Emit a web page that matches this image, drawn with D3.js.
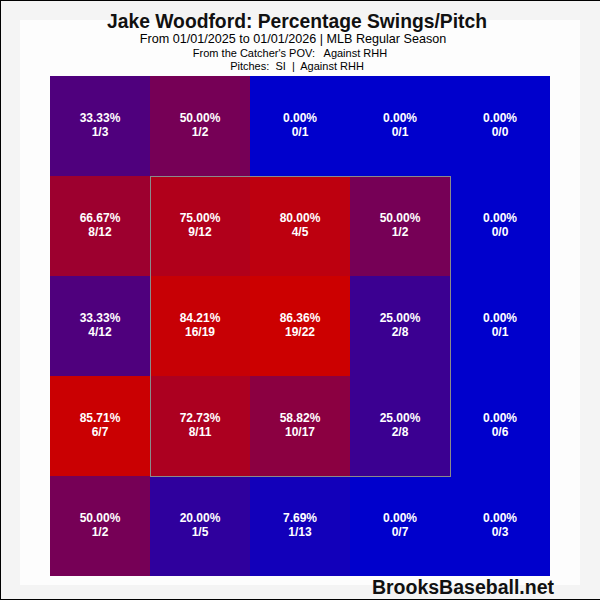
<!DOCTYPE html>
<html><head><meta charset="utf-8">
<script src="https://cdn.jsdelivr.net/npm/d3@7"></script>
<style>body{margin:0;background:#fff}svg{display:block}</style>
</head><body>
<script>
const titleText = "Jake Woodford: Percentage Swings/Pitch";
const subtitles = ["From 01/01/2025 to 01/01/2026 | MLB Regular Season", "From the Catcher's POV:   Against RHH", "Pitches:  SI  |  Against RHH"];
const rowIdx = [0,1,2,3,4];
const colIdx = [0,1,2,3,4];
const swings = [
  [1,1,0,0,0],
  [8,9,4,1,0],
  [4,16,19,2,0],
  [6,8,10,2,0],
  [1,1,1,0,0]
];
const pitches = [
  [3,2,1,1,0],
  [12,12,5,2,0],
  [12,19,22,8,1],
  [7,11,17,8,6],
  [2,5,13,7,3]
];
const zoneCols = [1,3];
const zoneRows = [1,3];

const W=600,H=600;
const svg=d3.select("body").append("svg").attr("width",W).attr("height",H);
svg.append("rect").attr("width",W).attr("height",H).attr("fill","#f4f4f4");
svg.append("rect").attr("x",20).attr("y",20).attr("width",560).attr("height",565).attr("fill","#fdfdfd");
svg.append("line").attr("x1",0.5).attr("x2",0.5).attr("y1",0).attr("y2",H).attr("stroke","#000");
svg.append("line").attr("x1",0).attr("x2",W).attr("y1",0.5).attr("y2",0.5).attr("stroke","#000");
svg.append("line").attr("x1",0).attr("x2",W).attr("y1",H-0.5).attr("y2",H-0.5).attr("stroke","#000");

const x=d3.scaleBand().domain(colIdx).range([50,550]);
const y=d3.scaleBand().domain(rowIdx).range([76,576]);
const cells=[];
rowIdx.forEach(r=>colIdx.forEach(c=>cells.push({r,c,s:swings[r][c],p:pitches[r][c],v:pitches[r][c]?swings[r][c]/pitches[r][c]:0})));
const maxV=d3.max(cells,d=>d.v);
const color=d3.scaleLinear().domain([0,maxV]).range(["#0000cc","#cc0000"]).interpolate(d3.interpolateRgb).clamp(true);

svg.selectAll("rect.cell").data(cells).enter().append("rect").attr("class","cell")
 .attr("x",d=>x(d.c)).attr("y",d=>y(d.r)).attr("width",x.bandwidth()).attr("height",y.bandwidth())
 .attr("fill",d=>color(d.v));

svg.append("rect").attr("x",x(zoneCols[0])+0.5).attr("y",y(zoneRows[0])+0.5)
 .attr("width",x(zoneCols[1])+x.bandwidth()-x(zoneCols[0])).attr("height",y(zoneRows[1])+y.bandwidth()-y(zoneRows[0]))
 .attr("fill","none").attr("stroke","#8a8a8a").attr("stroke-width",1);

const txt=svg.selectAll("g.lbl").data(cells).enter().append("g")
 .attr("transform",d=>`translate(${x(d.c)+x.bandwidth()/2},${y(d.r)+y.bandwidth()/2})`);
txt.append("text").attr("y",-4).attr("text-anchor","middle")
 .style("font","bold 12px 'Liberation Sans', Arial, sans-serif").attr("fill","#fff")
 .text(d=>(d.v*100).toFixed(2)+"%");
txt.append("text").attr("y",10).attr("text-anchor","middle")
 .style("font","bold 12px 'Liberation Sans', Arial, sans-serif").attr("fill","#fff")
 .text(d=>d.s+"/"+d.p);

svg.append("text").attr("x",297).attr("y",28).attr("text-anchor","middle")
 .style("font","bold 19.3px 'Liberation Sans', Arial, sans-serif").attr("fill","#111").text(titleText);
svg.append("text").attr("x",293).attr("y",43).attr("text-anchor","middle")
 .style("font","12.6px 'Liberation Sans', Arial, sans-serif").text(subtitles[0]);
svg.append("text").attr("x",290).attr("y",57).attr("text-anchor","middle")
 .style("font","11px 'Liberation Sans', Arial, sans-serif").style("white-space","pre").attr("xml:space","preserve").text(subtitles[1]);
svg.append("text").attr("x",297).attr("y",69.5).attr("text-anchor","middle")
 .style("font","11px 'Liberation Sans', Arial, sans-serif").style("white-space","pre").attr("xml:space","preserve").text(subtitles[2]);
svg.append("text").attr("x",554).attr("y",594).attr("text-anchor","end")
 .style("font","bold 19.5px 'Liberation Sans', Arial, sans-serif").attr("fill","#111").text("BrooksBaseball.net");
</script>
</body></html>
